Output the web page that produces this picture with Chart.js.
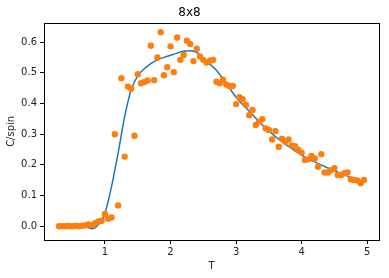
<!DOCTYPE html>
<html>
<head>
<meta charset="utf-8">
<script src="https://cdn.jsdelivr.net/npm/chart.js@4"></script>
<style>
html,body{margin:0;padding:0;background:#fff;}
#wrap{width:389px;height:278px;}
</style>
</head>
<body>
<div id="wrap"><canvas id="c" width="389" height="278"></canvas></div>
<script>
// Simulation data: temperature T and specific heat per spin
const simT = [0.30,0.35,0.40,0.45,0.50,0.55,0.60,0.65,0.70,0.75,0.80,0.85,0.90,0.95,
  1.00,1.05,1.10,1.15,1.20,1.25,1.30,1.35,1.40,1.45,1.50,1.55,1.60,1.65,1.70,1.75,
  1.80,1.85,1.90,1.95,2.00,2.05,2.10,2.15,2.20,2.25,2.30,2.35,2.40,2.45,2.50,2.55,
  2.60,2.65,2.70,2.75,2.80,2.85,2.90,2.95,3.00,3.05,3.10,3.15,3.20,3.25,3.30,3.35,
  3.40,3.45,3.50,3.55,3.60,3.65,3.70,3.75,3.80,3.85,3.90,3.95,4.00,4.05,4.10,4.15,
  4.20,4.25,4.30,4.35,4.40,4.45,4.50,4.55,4.60,4.65,4.70,4.75,4.80,4.85,4.90,4.95];
const simC = [0.000,0.000,0.000,0.001,0.000,0.001,0.000,0.002,0.003,0.006,0.004,0.010,0.016,0.018,
  0.040,0.025,0.029,0.300,0.068,0.482,0.227,0.455,0.448,0.295,0.495,0.466,0.470,0.475,0.588,0.476,
  0.550,0.632,0.492,0.518,0.586,0.502,0.615,0.542,0.558,0.604,0.594,0.538,0.578,0.553,0.542,0.533,
  0.539,0.542,0.471,0.466,0.477,0.462,0.457,0.457,0.398,0.420,0.414,0.395,0.362,0.379,0.330,0.341,
  0.349,0.319,0.314,0.283,0.310,0.259,0.285,0.276,0.283,0.263,0.261,0.249,0.240,0.216,0.218,0.229,
  0.221,0.194,0.235,0.175,0.175,0.183,0.189,0.167,0.167,0.173,0.175,0.153,0.151,0.149,0.140,0.151];

// Smooth curve
const curveT = [0.30,0.40,0.50,0.55,0.60,0.70,0.75,0.80,0.85,0.90,0.95,1.00,1.10,1.20,1.30,1.40,
  1.50,1.60,1.70,1.80,1.90,2.00,2.10,2.20,2.30,2.40,2.50,2.60,2.70,2.80,2.90,3.00,3.20,3.40,
  3.60,3.80,4.00,4.20,4.40,4.60,4.80,4.95];
const curveC = [0.000,0.000,0.003,0.006,0.004,0.000,-0.004,-0.008,-0.004,0.006,0.020,0.042,0.129,0.238,0.357,0.445,
  0.490,0.513,0.530,0.542,0.550,0.557,0.564,0.570,0.572,0.566,0.545,0.528,0.508,0.480,0.450,0.420,0.375,0.330,
  0.292,0.260,0.232,0.210,0.190,0.172,0.155,0.145];

const xTicks = [1,2,3,4,5];
const yTicks = [0.0,0.1,0.2,0.3,0.4,0.5,0.6];

const FONT = "'DejaVu Sans', sans-serif";

const spines = {
  id: 'spines',
  afterDatasetsDraw(chart) {
    const a = chart.chartArea, ctx = chart.ctx;
    ctx.save();
    ctx.strokeStyle = '#000';
    ctx.lineWidth = 1;
    ctx.strokeRect(Math.round(a.left) + 0.5, Math.round(a.top) + 0.5,
      Math.round(a.right) - Math.round(a.left), Math.round(a.bottom) - Math.round(a.top));
    ctx.restore();
  }
};

new Chart(document.getElementById('c'), {
  type: 'scatter',
  data: {
    datasets: [
      {
        label: 'data',
        data: simT.map((t, i) => ({x: t, y: simC[i]})),
        backgroundColor: '#ff7f0e',
        borderWidth: 0,
        pointRadius: 3.2,
        showLine: false
      },
      {
        label: 'fit',
        data: curveT.map((t, i) => ({x: t, y: curveC[i]})),
        showLine: true,
        borderColor: '#1f77b4',
        borderWidth: 1.5,
        pointRadius: 0,
        cubicInterpolationMode: 'monotone',
        fill: false
      }
    ]
  },
  options: {
    responsive: false,
    animation: false,
    devicePixelRatio: 1,
    layout: {padding: {left: 0, right: 10, top: 0, bottom: 0}},
    plugins: {
      legend: {display: false},
      tooltip: {enabled: false},
      title: {
        display: true,
        text: '8x8',
        color: '#000',
        font: {family: FONT, size: 12, weight: 'normal'},
        padding: {top: 6, bottom: 2.3}
      }
    },
    scales: {
      x: {
        type: 'linear',
        min: 0.07, max: 5.18,
        afterFit: (s) => { s.height = 38; },
        afterBuildTicks: (s) => { s.ticks = xTicks.map(v => ({value: v})); },
        grid: {display: true, drawOnChartArea: false, drawTicks: true, tickLength: 4, color: '#000', lineWidth: 1},
        border: {display: false},
        ticks: {color: '#222', font: {family: FONT, size: 10}, padding: 2, maxRotation: 0,
          callback: (v) => String(v)},
        title: {display: true, text: 'T', color: '#222', font: {family: FONT, size: 10}, padding: {top: 0, bottom: 6}}
      },
      y: {
        type: 'linear',
        min: -0.0446, max: 0.663,
        afterFit: (s) => { s.width = 44; },
        afterBuildTicks: (s) => { s.ticks = yTicks.map(v => ({value: v})); },
        grid: {display: true, drawOnChartArea: false, drawTicks: true, tickLength: 4, color: '#000', lineWidth: 1},
        border: {display: false},
        ticks: {color: '#222', font: {family: FONT, size: 10}, padding: 3,
          callback: (v) => Number(v).toFixed(1)},
        title: {display: true, text: 'C/spin', color: '#222', font: {family: FONT, size: 10}, padding: {top: 5, bottom: 0}}
      }
    }
  },
  plugins: [spines]
});
</script>
</body>
</html>
